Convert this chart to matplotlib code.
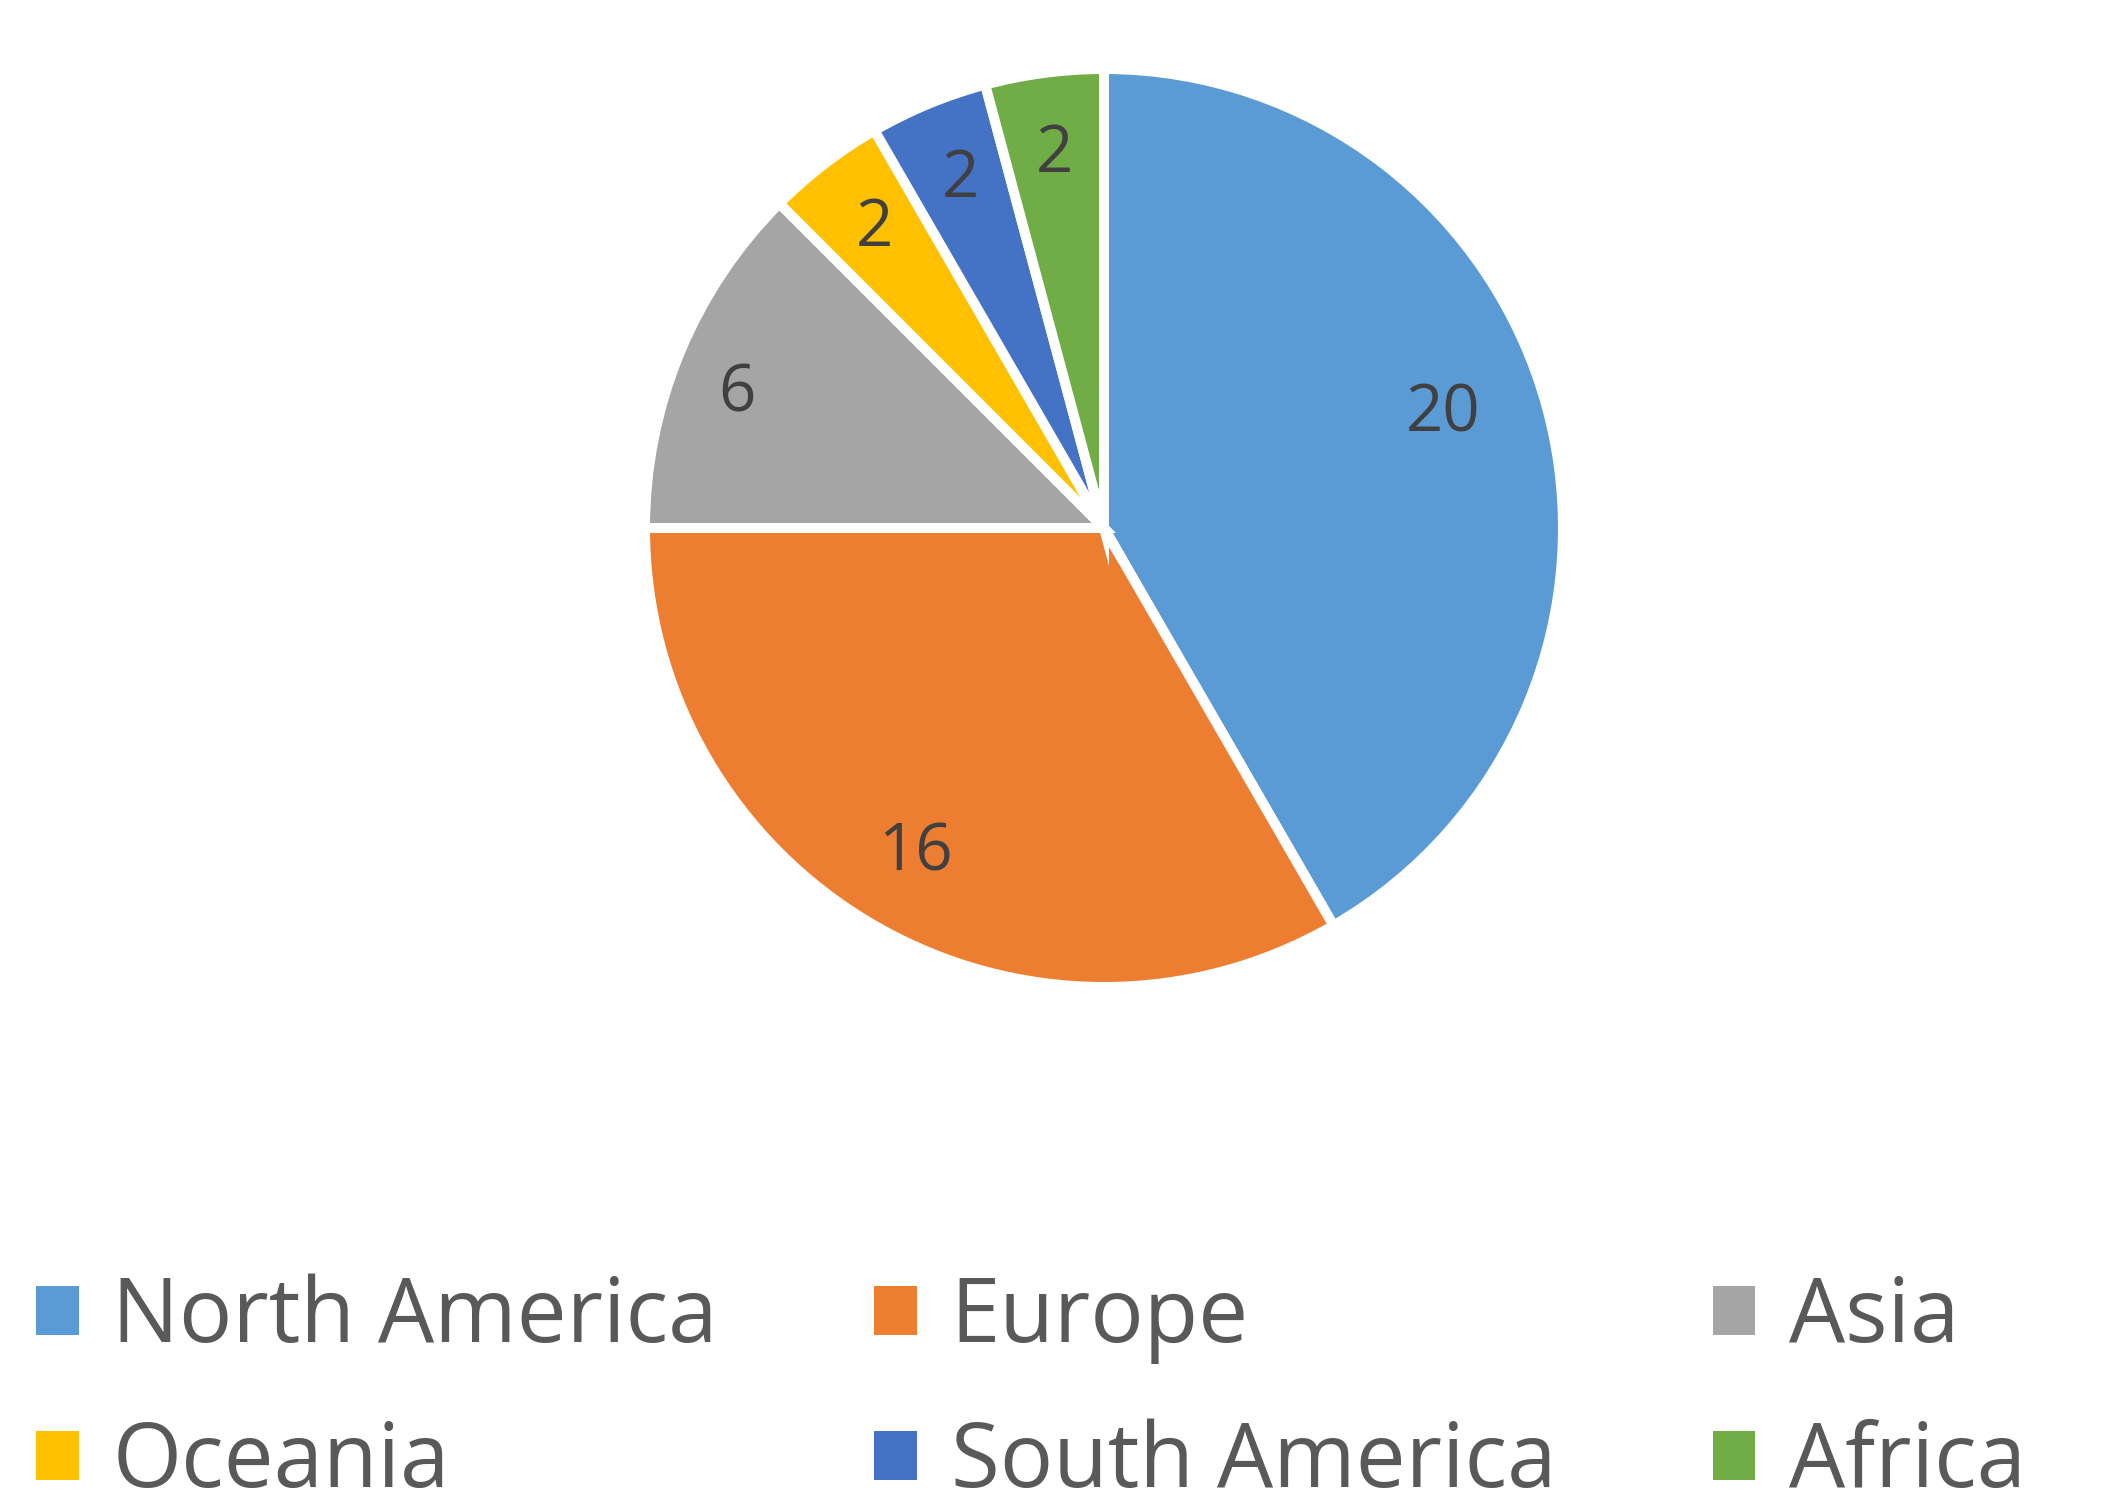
import matplotlib
matplotlib.use("Agg")
import matplotlib.pyplot as plt
import numpy as np
from matplotlib.patches import Patch

categories = ["North America", "Europe", "Asia", "Oceania", "South America", "Africa"]
values = [20, 16, 6, 2, 2, 2]
colors = ["#5B9BD5", "#ED7D31", "#A5A5A5", "#FFC000", "#4472C4", "#70AD47"]

plt.rcParams['font.family'] = ['Open Sans', 'DejaVu Sans']

W, H = 2103, 1509
dpi = 100
fig = plt.figure(figsize=(W / dpi, H / dpi), dpi=dpi)

cx, cy, r = 1104, 528, 459
ax = fig.add_axes([(cx - r) / W, (H - cy - r) / H, 2 * r / W, 2 * r / H])
wedges, _ = ax.pie(values, colors=colors, startangle=90, counterclock=False,
                   radius=1.0, wedgeprops=dict(edgecolor="white", linewidth=7.2))
ax.set_xlim(-1, 1)
ax.set_ylim(-1, 1)
ax.set_aspect("equal")
ax.axis("off")

for i, (w, v) in enumerate(zip(wedges, values)):
    mid = np.deg2rad((w.theta1 + w.theta2) / 2)
    d = 0.82
    if i == 0:
        mid += np.deg2rad(3.5)
        d = 0.78
    elif i == 2:
        d = 0.85
        mid += np.deg2rad(2.5)
    ax.text(d * np.cos(mid), d * np.sin(mid), str(v), ha="center", va="center",
            fontsize=47, color="#404040")

# legend: column-major fill -> reorder so rows read NA, Europe, Asia / Oceania, SA, Africa
order = [0, 3, 1, 4, 2, 5]
handles = [Patch(facecolor=colors[k], edgecolor="none") for k in order]
labels = [categories[k] for k in order]
leg = fig.legend(handles, labels, ncol=3, loc="lower left",
                 bbox_to_anchor=(36 / W, 0.0), frameon=False,
                 fontsize=64, handlelength=0.48, handleheight=0.48,
                 handletextpad=0.38, columnspacing=1.76, labelspacing=0.61,
                 borderaxespad=0.0, borderpad=0.0)
for t in leg.get_texts():
    t.set_color("#595959")

fig.savefig("out.png", dpi=dpi, facecolor="white")
